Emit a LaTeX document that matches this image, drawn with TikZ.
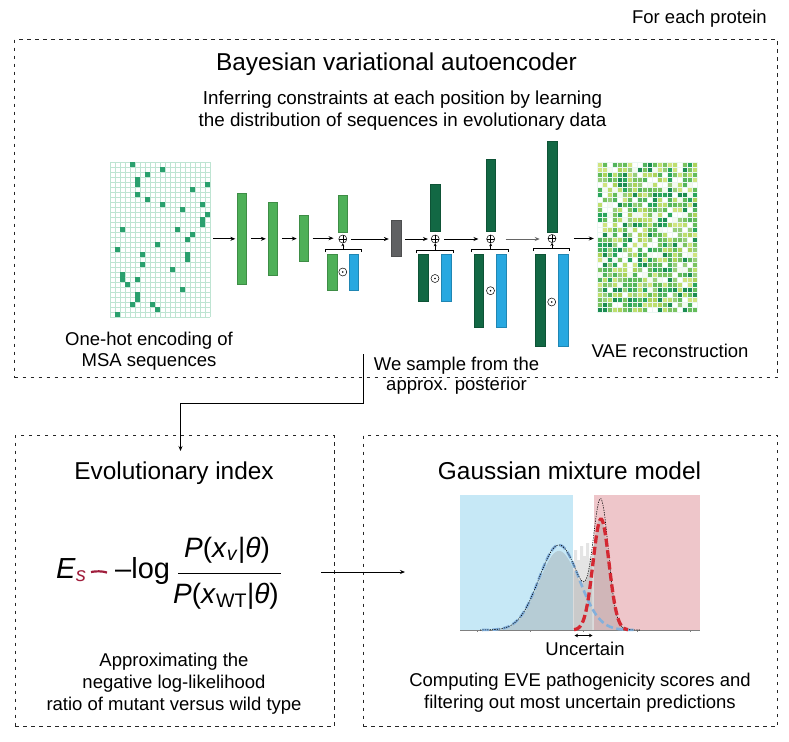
\documentclass[tikz,border=0pt]{standalone}
\usepackage{fontspec}
\setmainfont{Liberation Sans}
\usetikzlibrary{arrows.meta,calc}
\definecolor{lg}{RGB}{78,176,88}
\definecolor{dg}{RGB}{18,104,68}
\definecolor{bl}{RGB}{40,168,224}
\definecolor{gb}{RGB}{96,97,99}
\definecolor{gridc}{RGB}{190,228,210}
\definecolor{sq}{RGB}{42,160,110}
\definecolor{maroonc}{RGB}{160,30,60}
\definecolor{bgblue}{RGB}{198,232,246}
\definecolor{bgpink}{RGB}{238,198,202}
\definecolor{gblue}{RGB}{130,176,220}
\definecolor{gred}{RGB}{212,40,50}
\definecolor{vc1}{RGB}{255,255,255}
\definecolor{vc2}{RGB}{245,250,240}
\definecolor{vc3}{RGB}{190,222,110}
\definecolor{vc4}{RGB}{208,228,128}
\definecolor{vc5}{RGB}{172,210,90}
\definecolor{vc6}{RGB}{122,195,96}
\definecolor{vc7}{RGB}{82,180,92}
\definecolor{vc8}{RGB}{42,165,92}
\definecolor{vc9}{RGB}{152,206,122}
\definecolor{vc10}{RGB}{28,140,82}
\definecolor{vc11}{RGB}{255,255,255}
\definecolor{vc12}{RGB}{100,188,90}
\tikzset{
  dbox/.style={draw=black!85, line width=1.1pt, dash pattern=on 3.5pt off 4.5pt, inner sep=0},
  arr/.style={-{Stealth[length=5pt,width=4pt]}, line width=0.8pt},
  bar/.style={draw=#1!80!black, fill=#1, line width=0.4pt, inner sep=0, minimum width=9.5pt},
  opl/.style={circle, draw, line width=0.5pt, inner sep=0, minimum size=8pt,
    path picture={\draw[line width=0.5pt] (path picture bounding box.north) -- (path picture bounding box.south)
      (path picture bounding box.west) -- (path picture bounding box.east);}},
  odot/.style={circle, draw, line width=0.5pt, inner sep=0, minimum size=8pt,
    path picture={\fill (path picture bounding box.center) circle (0.9pt);}},
  t24/.style={font=\fontsize{24.4}{28}\selectfont, inner sep=0, anchor=base},
  t18/.style={font=\fontsize{18.5}{22}\selectfont, inner sep=0, anchor=base},
  t29/.style={font=\fontsize{29}{34}\selectfont, inner sep=0, anchor=base},
  gline/.style={draw=gridc, line width=0.45pt},
  brk/.style={line width=0.7pt},
}
\begin{document}
\begin{tikzpicture}[x=1pt,y=-1pt]
\useasboundingbox (0,0) rectangle (789,741);
\fill[white] (0,0) rectangle (789,741);

% ---- boxes
\node[dbox, anchor=north west, minimum width=763pt, minimum height=338pt] (vae) at (14,39) {};
\node[dbox, anchor=north west, minimum width=319pt, minimum height=291pt] (evo) at (14.5,435) {};
\node[dbox, anchor=north west, minimum width=414.5pt, minimum height=291pt] (gmm) at (362.5,435) {};

\node[t18, anchor=base east] (fep) at (767,24) {For each protein};
\node[t24] (title) at (396.5,71) {Bayesian variational autoencoder};
\node[t18, font=\fontsize{18.8}{22}\selectfont] (sub1) at (402.5,105) {Inferring constraints at each position by learning};
\node[t18, font=\fontsize{18.8}{22}\selectfont] (sub2) at (402.5,127) {the distribution of sequences in evolutionary data};

% ---- input MSA grid
\foreach \i in {0,...,20} \draw[gline] (110+5*\i,162) -- (110+5*\i,317);
\foreach \j in {0,...,31} \draw[gline] (110,162+5*\j) -- (210,162+5*\j);
\foreach \c/\r in {4/0,10/1,7/2,5/3,5/4,19/4,16/5,5/6,7/7,10/8,18/8,14/9,19/10,18/11,18/12,2/13,13/13,16/14,15/15,9/16,1/17,15/18,6/18,15/19,6/20,12/21,2/22,5/23,2/23,3/24,14/25,5/26,5/27,8/28,4/28,9/29,1/30}
  \fill[sq] (110.2+5*\c,162.2+5*\r) rectangle ++(5.2,5.2);
\node[inner sep=0, minimum width=100pt, minimum height=155pt] (msa) at (160,239.5) {};

% ---- reconstruction grid
\pgfmathsetseed{11}
\foreach \i in {0,...,19}{\foreach \j in {0,...,29}{
  \pgfmathrandominteger{\rr}{1}{12}
  \fill[color=vc\rr] (597+5*\i,162+5*\j) rectangle ++(5,5);
}}
\foreach \i in {0,...,20} \draw[draw=white!70!gridc, line width=0.35pt] (597+5*\i,162) -- (597+5*\i,312);
\foreach \j in {0,...,30} \draw[draw=white!70!gridc, line width=0.35pt] (597,162+5*\j) -- (697,162+5*\j);
\node[inner sep=0, minimum width=100pt, minimum height=150pt] (rec) at (647,237) {};

% ---- encoder bars
\node[bar=lg, minimum height=91pt] (b1) at (241.8,238.8) {};
\node[bar=lg, minimum height=73pt] (b2) at (272.8,238.6) {};
\node[bar=lg, minimum height=46pt] (b3) at (303.7,238.2) {};

% group 1
\node[bar=lg, minimum height=37pt] (t1) at (342.8,213.2) {};
\node[opl] (o1) at (342.8,239) {};
\node[bar=lg, minimum height=36pt] (g1) at (332.2,272) {};
\node[bar=bl, minimum height=36pt] (u1) at (353.7,272) {};
\node[odot] (d1) at (342.8,272) {};
\coordinate (k1) at (342.8,249);
\draw[brk] (325,252) -- (325,249) -- (361,249) -- (361,252);
\draw[-{Stealth[length=3pt,width=3pt]}, line width=0.6pt] (k1) -- (o1.south);

% latent
\node[bar=gb, minimum height=36.7pt] (z) at (396.3,238.3) {};

% group 2
\node[bar=dg, minimum height=46.4pt] (t2) at (435.2,207.5) {};
\node[opl] (o2) at (435.2,239) {};
\node[bar=dg, minimum height=46.7pt] (g2) at (423.3,277.7) {};
\node[bar=bl, minimum height=46.7pt] (u2) at (446,277.7) {};
\node[odot] (d2) at (435,278.5) {};
\coordinate (k2) at (435.2,250);
\draw[brk] (416,253) -- (416,250) -- (453.3,250) -- (453.3,253);
\draw[-{Stealth[length=3pt,width=3pt]}, line width=0.6pt] (k2) -- (o2.south);

% group 3
\node[bar=dg, minimum height=72.7pt] (t3) at (490.7,195.3) {};
\node[opl] (o3) at (490.7,239) {};
\node[bar=dg, minimum height=73pt] (g3) at (478.8,290.8) {};
\node[bar=bl, minimum height=73pt] (u3) at (501.2,290.8) {};
\node[odot] (d3) at (490.5,290.7) {};
\coordinate (k3) at (490.7,249);
\draw[brk] (471.7,252) -- (471.7,249) -- (508.3,249) -- (508.3,252);
\draw[-{Stealth[length=3pt,width=3pt]}, line width=0.6pt] (k3) -- (o3.south);

% group 4
\node[bar=dg, minimum height=91pt] (t4) at (552,186.2) {};
\node[opl] (o4) at (552,238.5) {};
\node[bar=dg, minimum height=91.7pt] (g4) at (540.3,300.2) {};
\node[bar=bl, minimum height=91.7pt] (u4) at (563,300.2) {};
\node[odot] (d4) at (551.7,302) {};
\coordinate (k4) at (552,248);
\draw[brk] (533.3,251) -- (533.3,248) -- (569.3,248) -- (569.3,251);
\draw[-{Stealth[length=3pt,width=3pt]}, line width=0.6pt] (k4) -- (o4.south);

% ---- arrows along the chain
\draw[arr, shorten <=3pt, shorten >=1.5pt] (msa.east |- b1) -- (b1.west);
\draw[arr, shorten <=4pt, shorten >=2pt] (b1.east) -- (b2.west |- b1.east);
\draw[arr, shorten <=4pt, shorten >=2pt] (b2.east) -- (b3.west |- b2.east);
\draw[arr, shorten <=4pt, shorten >=5pt] (b3.east) -- (o1.west |- b3.east);
\draw[arr, shorten <=4pt, shorten >=2.5pt] (o1.east) -- (z.west |- o1.east);
\draw[arr, shorten <=4pt, shorten >=3pt] (z.east |- o2.west) -- (o2.west);
\draw[arr, shorten <=5pt, shorten >=8pt] (o2.east) -- (o3.west);
\draw[arr, draw=black!60, fill=black!60, shorten <=11pt, shorten >=8pt] (o3.east) -- (o4.west |- o3.east);
\draw[arr, shorten <=6pt, shorten >=3pt] (u4.east |- o4.east) -- (rec.west |- o4.east);

\node[t18] (oh1) at (149,345) {One-hot encoding of};
\node[t18] (oh2) at (149,366) {MSA sequences};
\node[t18] (vrec) at (670,357) {VAE reconstruction};
\node[t18] (ws1) at (456.5,370) {We sample from the};
\node[t18] (ws2) at (456.5,390) {approx. posterior};

% ---- sampling connector
\coordinate (s0) at (363.3,354);
\coordinate (evin) at (180.5,451);
\draw[arr] (s0) -- (363.3,403.3) -| (evin);

% ---- evolutionary index
\node[t24] (evt) at (174,479) {Evolutionary index};
\node[t29, anchor=base west] (es) at (56,578) {\textit{E}\textsubscript{\textcolor{maroonc}{\textit{s}}}};
\draw[maroonc, line width=2.2pt] (91,572) .. controls (96,571) and (102,571) .. (107,572.5);
\node[t29, anchor=base west] (mlog) at (115,578) {–log};
\node[t29, font=\fontsize{28}{34}\selectfont] (num) at (227,557) {\textit{P}(\textit{x}\textsubscript{\textit{v}}|\textit{θ})};
\node[t29, font=\fontsize{28}{34}\selectfont] (den) at (226,603) {\textit{P}(\textit{x}\textsubscript{WT}|\textit{θ})};
\coordinate (fl) at (178,573.5);
\coordinate (fr) at (281,573.5);
\draw[line width=1.3pt] (fl) -- (fr);
\node[t18] (ap1) at (174,666) {Approximating the};
\node[t18] (ap2) at (174,688) {negative log-likelihood};
\node[t18] (ap3) at (174,710) {ratio of mutant versus wild type};

% ---- arrow to GMM
\coordinate (fa) at (321,572);
\coordinate (fb) at (405,572);
\draw[arr] (fa) -- (fb);

% ---- Gaussian mixture
\node[t24] (gmt) at (569.5,479) {Gaussian mixture model};
\fill[bgblue] (460,495) rectangle (573,630);
\fill[bgpink] (594,495) rectangle (700,630);
\fill[gray!80, opacity=0.35] (480,630) -- plot[domain=480:640, samples=90]
  (\x,{630-0.93*(85*exp(-min(((\x-559)/20)^2/2,9))+111*exp(-min(((\x-601)/8)^2/2,9)))}) -- (640,630) -- cycle;
\fill[gray!70, opacity=0.3] (574,630) -- (574,550) -- (577,550) -- (577,560) -- (580,560) -- (580,546)
  -- (583,546) -- (583,556) -- (586,556) -- (586,543) -- (589,543) -- (589,558) -- (592,558) -- (592,630) -- cycle;
\draw[gray, line width=0.6pt] (460,630) -- (700,630);
\foreach \t in {477,530,583,637,690} \draw[gray, line width=0.5pt] (\t,630) -- (\t,632);
\draw[gblue, line width=2.6pt, dash pattern=on 7pt off 3.5pt] plot[domain=482:635, samples=80]
  (\x,{630-85*exp(-min(((\x-559)/20)^2/2,9))});
\draw[black, line width=0.6pt, dash pattern=on 1.2pt off 1.2pt] plot[domain=480:640, samples=120]
  (\x,{630-(85*exp(-min(((\x-559)/20)^2/2,9))+122*exp(-min(((\x-601)/7.5)^2/2,9)))});
\draw[gred, line width=3.3pt, dash pattern=on 8pt off 3.5pt] plot[domain=574:628, samples=60]
  (\x,{630-111*exp(-min(((\x-601)/8)^2/2,9))});
\coordinate (ua) at (574.5,635.5);
\coordinate (ub) at (592.5,635.5);
\draw[{Stealth[length=3.5pt,width=3.5pt]}-{Stealth[length=3.5pt,width=3.5pt]}, line width=0.7pt] (ua) -- (ub);
\node[t18] (unc) at (585,655) {Uncertain};
\node[t18] (cp1) at (580,686) {Computing EVE pathogenicity scores and};
\node[t18] (cp2) at (580,708) {filtering out most uncertain predictions};
\end{tikzpicture}
\end{document}
